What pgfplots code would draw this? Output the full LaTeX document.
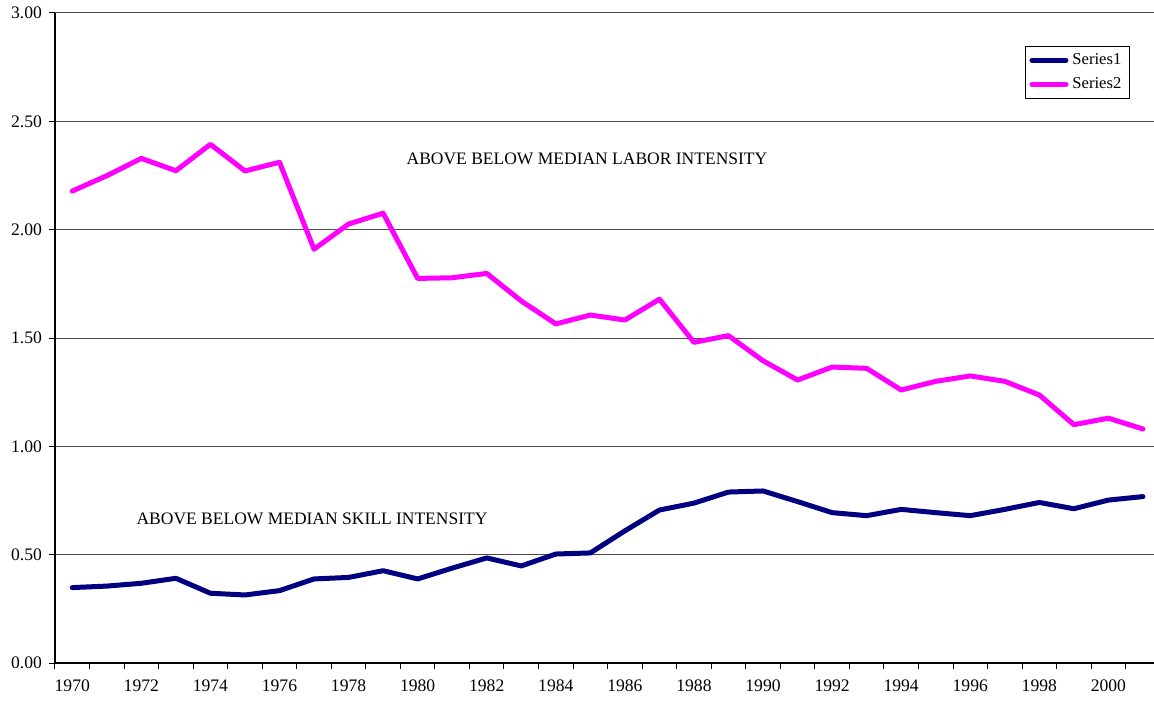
\documentclass[border=0pt]{standalone}
\usepackage{fontspec}
\setmainfont{Liberation Serif}
\usepackage{pgfplots}
\pgfplotsset{compat=1.18}
\definecolor{seriesnavy}{RGB}{0,0,128}
\definecolor{seriesmagenta}{RGB}{255,0,255}

\begin{document}
\begin{tikzpicture}
\begin{axis}[
  scale only axis,
  width=549.5pt, height=325pt,
  xmin=1969.5, xmax=2001.32,
  ymin=0, ymax=3,
  axis lines*=left,
  axis line style={black, line width=0.6pt},
  ytick={0,0.5,...,3},
  ymajorgrids,
  grid style={black!70, line width=0.5pt},
  xtick={1969.5,1970.5,...,2001.5},
  xticklabels={},
  extra x ticks={1970,1972,...,2000},
  extra x tick style={grid=none, major tick length=0pt},
  extra x tick labels={1970,1972,1974,1976,1978,1980,1982,1984,1986,1988,1990,1992,1994,1996,1998,2000},
  tick style={black, line width=0.5pt},
  tick align=outside,
  major tick length=3pt,
  /pgf/number format/assume math mode=true,
  yticklabel style={/pgf/number format/fixed, /pgf/number format/fixed zerofill,
    /pgf/number format/precision=2},
  xticklabel style={yshift=-5pt},
  tick label style={font=\fontsize{8.8}{10}\selectfont},
  legend style={at={(0.8826,0.9497)}, anchor=north west, draw=black, line width=0.5pt,
    fill=white, font=\fontsize{8.3}{10}\selectfont, inner xsep=2pt, inner ysep=1.5pt,
    row sep=1pt},
  legend cell align=left,
  legend image code/.code={\draw[#1, line width=2.5pt, line cap=round] (0pt,0pt) -- (17pt,0pt);},
  every axis plot/.append style={line width=2.5pt, line join=round, line cap=round},
]
\addplot[seriesnavy] coordinates {
(1970,0.348) (1971,0.355) (1972,0.368) (1973,0.391) (1974,0.322) (1975,0.314)
(1976,0.334) (1977,0.388) (1978,0.395) (1979,0.426) (1980,0.388) (1981,0.438)
(1982,0.485) (1983,0.448) (1984,0.503) (1985,0.508) (1986,0.610) (1987,0.706)
(1988,0.738) (1989,0.789) (1990,0.794) (1991,0.745) (1992,0.694) (1993,0.680)
(1994,0.709) (1995,0.694) (1996,0.680) (1997,0.709) (1998,0.741) (1999,0.712)
(2000,0.752) (2001,0.768)
};
\addlegendentry{Series1}
\addplot[seriesmagenta] coordinates {
(1970,2.178) (1971,2.249) (1972,2.329) (1973,2.272) (1974,2.394) (1975,2.271)
(1976,2.311) (1977,1.910) (1978,2.026) (1979,2.076) (1980,1.775) (1981,1.778)
(1982,1.798) (1983,1.671) (1984,1.565) (1985,1.606) (1986,1.583) (1987,1.679)
(1988,1.480) (1989,1.511) (1990,1.395) (1991,1.306) (1992,1.366) (1993,1.360)
(1994,1.260) (1995,1.300) (1996,1.325) (1997,1.300) (1998,1.237) (1999,1.100)
(2000,1.130) (2001,1.080)
};
\addlegendentry{Series2}
\node[anchor=west, inner sep=0pt, font=\fontsize{8.75}{10}\selectfont]
  at (axis cs:1979.67,2.326) {ABOVE BELOW MEDIAN LABOR INTENSITY};
\node[anchor=west, inner sep=0pt, font=\fontsize{8.75}{10}\selectfont]
  at (axis cs:1971.85,0.665) {ABOVE BELOW MEDIAN SKILL INTENSITY};
\coordinate (bl) at (rel axis cs:0,0);
\coordinate (tr) at (rel axis cs:1,1);
\end{axis}
\pgfresetboundingbox
\path[use as bounding box] ([xshift=-27.5pt,yshift=-19.5pt]bl) rectangle ([yshift=6.5pt]tr);
\end{tikzpicture}
\end{document}
